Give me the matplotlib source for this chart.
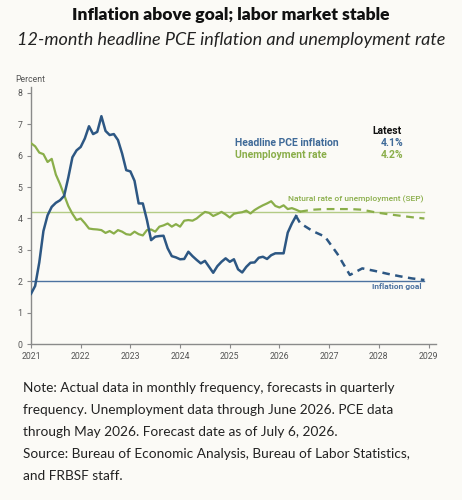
#!/usr/bin/env python3
"""Inflation vs unemployment chart with forecasts."""
import matplotlib
matplotlib.use("Agg")
import matplotlib.pyplot as plt

# monthly actuals, starting Jan 2021
pce_actual = [
    1.6, 1.85, 2.6, 3.6, 4.1, 4.37, 4.5, 4.58, 4.72, 5.3, 5.95, 6.17,
    6.28, 6.55, 6.94, 6.69, 6.76, 7.26, 6.79, 6.66, 6.69, 6.5, 6.07, 5.54,
    5.5, 5.2, 4.48, 4.48, 3.95, 3.31, 3.42, 3.44, 3.45, 3.05, 2.8, 2.76,
    2.7, 2.71, 2.94, 2.8, 2.68, 2.57, 2.65, 2.46, 2.27, 2.48, 2.62, 2.73,
    2.62, 2.7, 2.38, 2.28, 2.46, 2.59, 2.6, 2.75, 2.78, 2.71, 2.83, 2.89,
    2.89, 2.89, 3.55, 3.84, 4.08,
]
unemp_actual = [
    6.4, 6.3, 6.1, 6.05, 5.8, 5.9, 5.4, 5.1, 4.75, 4.4, 4.15, 3.95,
    4.0, 3.85, 3.68, 3.66, 3.65, 3.63, 3.54, 3.6, 3.52, 3.63, 3.58, 3.5,
    3.48, 3.58, 3.5, 3.46, 3.63, 3.65, 3.58, 3.74, 3.78, 3.84, 3.74, 3.82,
    3.74, 3.93, 3.95, 3.93, 4.0, 4.11, 4.21, 4.18, 4.08, 4.14, 4.21, 4.13,
    4.03, 4.15, 4.18, 4.2, 4.25, 4.16, 4.27, 4.35, 4.42, 4.48, 4.55, 4.4,
    4.35, 4.42, 4.3, 4.33, 4.28, 4.22,
]

# quarterly forecasts
pce_fc_dates = ["2026-05", "2026-06", "2026-09", "2026-12", "2027-03", "2027-06",
                "2027-09", "2027-12", "2028-03", "2028-06", "2028-09", "2028-12"]
pce_fc = [4.08, 3.85, 3.6, 3.42, 2.87, 2.2, 2.41, 2.33, 2.24, 2.16, 2.09, 2.04]
unemp_fc_dates = ["2026-06", "2026-09", "2026-12", "2027-03", "2027-06", "2027-09",
                  "2027-12", "2028-03", "2028-06", "2028-09", "2028-12"]
unemp_fc = [4.22, 4.28, 4.3, 4.3, 4.3, 4.28, 4.2, 4.14, 4.09, 4.04, 4.0]

natural_rate = 4.2
inflation_goal = 2.0
years = list(range(2021, 2030))
yticks = list(range(0, 9))

BLUE = "#2d5783"
GREEN = "#8aae4a"
GOAL_BLUE = "#4c72a0"
NAT_GREEN = "#b3cb85"
BG = "#fbfaf6"
GRAY = "#555555"


def to_year(s):
    y, m = s.split("-")
    return int(y) + (int(m) - 1) / 12


def month_axis(n):
    return [2021 + i / 12 for i in range(n)]


fig = plt.figure(figsize=(4.62, 5.0), dpi=100, facecolor=BG)
ax = fig.add_axes([31 / 462, 1 - 344 / 500, 405 / 462, (344 - 86.7) / 500])
ax.set_facecolor(BG)

end = to_year("2028-12")
ax.plot([2021, end], [natural_rate] * 2, color=NAT_GREEN, lw=1.0, zorder=1)
ax.plot([2021, end], [inflation_goal] * 2, color=GOAL_BLUE, lw=1.0, zorder=1)

ax.plot(month_axis(len(unemp_actual)), unemp_actual, color=GREEN, lw=1.6, zorder=3)
ax.plot([to_year(d) for d in unemp_fc_dates], unemp_fc, color=GREEN, lw=1.6,
        dashes=(3.5, 2.5), zorder=3)
ax.plot(month_axis(len(pce_actual)), pce_actual, color=BLUE, lw=1.8, zorder=4)
ax.plot([to_year(d) for d in pce_fc_dates], pce_fc, color=BLUE, lw=1.8,
        dashes=(3, 2.2), zorder=4)

ax.set_xlim(2021, 2029.15)
ax.set_ylim(0, 8.2)
ax.set_xticks(years)
ax.set_yticks(yticks)
for s in ["top", "right"]:
    ax.spines[s].set_visible(False)
for s in ["left", "bottom"]:
    ax.spines[s].set_color("#8a8a8a")
    ax.spines[s].set_linewidth(1.0)
ax.tick_params(colors="#8a8a8a", labelcolor=GRAY, length=3, width=0.8,
               labelsize=6.3, pad=3)
for lab in ax.get_xticklabels() + ax.get_yticklabels():
    lab.set_family("Roboto")

# legend block
LEG = 7.5
ax.text(2028.16, 6.78, "Latest", ha="center", va="center", fontsize=LEG,
        fontweight="bold", color="#111111", family="Roboto")
ax.text(2025.10, 6.40, "Headline PCE inflation", ha="left", va="center",
        fontsize=LEG, fontweight="bold", color="#3f6a98", family="Roboto")
ax.text(2025.10, 6.02, "Unemployment rate", ha="left", va="center",
        fontsize=LEG, fontweight="bold", color=GREEN, family="Roboto")
ax.text(2028.50, 6.40, "4.1%", ha="right", va="center", fontsize=LEG,
        fontweight="bold", color="#3f6a98", family="Roboto")
ax.text(2028.50, 6.02, "4.2%", ha="right", va="center", fontsize=LEG,
        fontweight="bold", color=GREEN, family="Roboto")

ax.text(2028.89, 4.62, "Natural rate of unemployment (SEP)", ha="right",
        va="center", fontsize=6.0, fontweight="medium", color=GREEN, family="Roboto")
ax.text(2028.87, 1.82, "Inflation goal", ha="right", va="center",
        fontsize=6.0, fontweight="bold", color=GOAL_BLUE, family="Roboto")

fig.text(15 / 462, 1 - 80 / 500, "Percent", ha="left", va="center",
         fontsize=6.2, color=GRAY, family="Roboto")

fig.text(0.5, 1 - 15 / 500, "Inflation above goal; labor market stable",
         ha="center", va="center", fontsize=12.6, fontweight="heavy",
         color="#111111", family="Lato")
fig.text(0.5, 1 - 40 / 500, "12-month headline PCE inflation and unemployment rate",
         ha="center", va="center", fontsize=13, style="italic",
         color="#222222", family="Lato")

notes = [
    "Note: Actual data in monthly frequency, forecasts in quarterly",
    "frequency. Unemployment data through June 2026. PCE data",
    "through May 2026. Forecast date as of July 6, 2026.",
    "Source: Bureau of Economic Analysis, Bureau of Labor Statistics,",
    "and FRBSF staff.",
]
for i, line in enumerate(notes):
    fig.text(23 / 462, 1 - (388 + 22 * i) / 500, line, ha="left", va="center",
             fontsize=9.8, color="#222222", family="Lato")

fig.savefig("out.png", dpi=100, facecolor=BG)
